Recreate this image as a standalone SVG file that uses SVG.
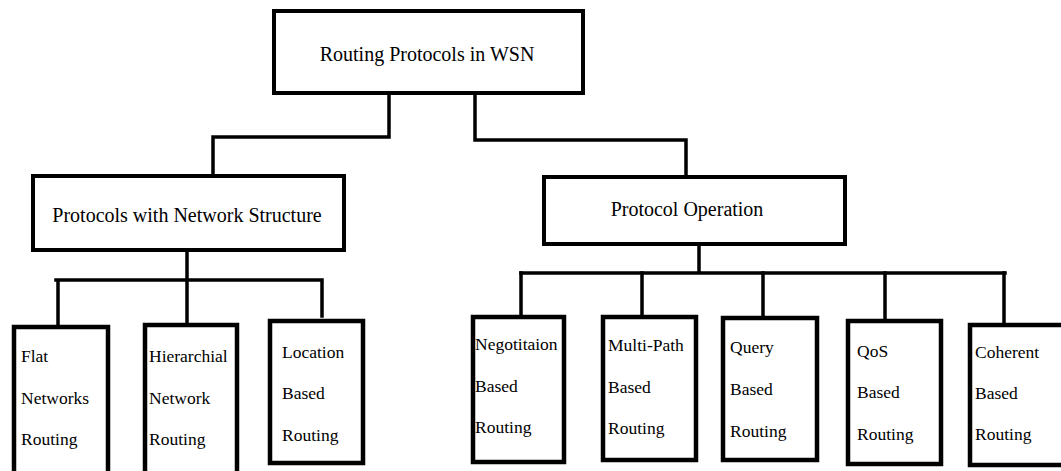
<svg xmlns="http://www.w3.org/2000/svg" width="1061" height="471" viewBox="0 0 1061 471">
<style>
.box{fill:#fff;stroke:#000;stroke-width:4}
.sbox{fill:#fff;stroke:#000;stroke-width:4.5}
.t{font-family:"Liberation Serif","Times New Roman",serif;font-size:20px;fill:#000}
.s{font-family:"Liberation Serif","Times New Roman",serif;font-size:17.5px;fill:#000}
.c{fill:none;stroke:#000;stroke-width:3.5;stroke-linejoin:miter;stroke-linecap:square}
</style>
<rect width="1061" height="471" fill="#fff"/>
<g id="connectors">
<path class="c" d="M389,93 V137 H213 V176"/>
<path class="c" d="M475,93 V140 H686 V177"/>
<path class="c" d="M187,250 V323"/>
<path class="c" d="M56,280 H322 M58,280 V327 M322,280 V316"/>
<path class="c" d="M699,244 V273 M521,273 H1005"/>
<path class="c" d="M521,273 V317 M642,273 V317 M763,273 V318 M885,273 V321 M1004,273 V325"/>
</g>
<g id="root">
<rect class="box" x="274" y="11" width="309" height="82"/>
<text class="t" x="427" y="61" text-anchor="middle">Routing Protocols in WSN</text>
</g>
<g id="network-structure">
<rect class="box" x="33" y="176" width="311" height="74"/>
<text class="t" x="187" y="222" text-anchor="middle">Protocols with Network Structure</text>
</g>
<g id="protocol-operation">
<rect class="box" x="544" y="177" width="301" height="67"/>
<text class="t" x="687" y="216" text-anchor="middle">Protocol Operation</text>
</g>
<g id="flat">
<rect class="sbox" x="14" y="327" width="94" height="160"/>
<text class="s" x="21" y="362">Flat</text>
<text class="s" x="21" y="404">Networks</text>
<text class="s" x="21" y="445">Routing</text>
</g>
<g id="hierarchial">
<rect class="sbox" x="145" y="325" width="92" height="160" stroke-width="5.5"/>
<text class="s" x="149" y="362">Hierarchial</text>
<text class="s" x="149" y="404">Network</text>
<text class="s" x="149" y="445">Routing</text>
</g>
<g id="location">
<rect class="sbox" x="270" y="321" width="93" height="142"/>
<text class="s" x="282" y="358">Location</text>
<text class="s" x="282" y="399">Based</text>
<text class="s" x="282" y="441">Routing</text>
</g>
<g id="negotiation">
<rect class="sbox" x="473" y="317" width="91" height="145" stroke-width="5"/>
<text class="s" x="475" y="350">Negotitaion</text>
<text class="s" x="475" y="392">Based</text>
<text class="s" x="475" y="433">Routing</text>
</g>
<g id="multipath">
<rect class="sbox" x="603" y="317" width="93" height="143"/>
<text class="s" x="608" y="351">Multi-Path</text>
<text class="s" x="608" y="393">Based</text>
<text class="s" x="608" y="434">Routing</text>
</g>
<g id="query">
<rect class="sbox" x="723" y="318" width="94" height="142"/>
<text class="s" x="730" y="353">Query</text>
<text class="s" x="730" y="395">Based</text>
<text class="s" x="730" y="437">Routing</text>
</g>
<g id="qos">
<rect class="sbox" x="848" y="321" width="93" height="143"/>
<text class="s" x="857" y="357">QoS</text>
<text class="s" x="857" y="398">Based</text>
<text class="s" x="857" y="440">Routing</text>
</g>
<g id="coherent">
<rect class="sbox" x="970" y="325" width="98" height="140" stroke-width="5"/>
<text class="s" x="975" y="358">Coherent</text>
<text class="s" x="975" y="399">Based</text>
<text class="s" x="975" y="440">Routing</text>
</g>
</svg>
